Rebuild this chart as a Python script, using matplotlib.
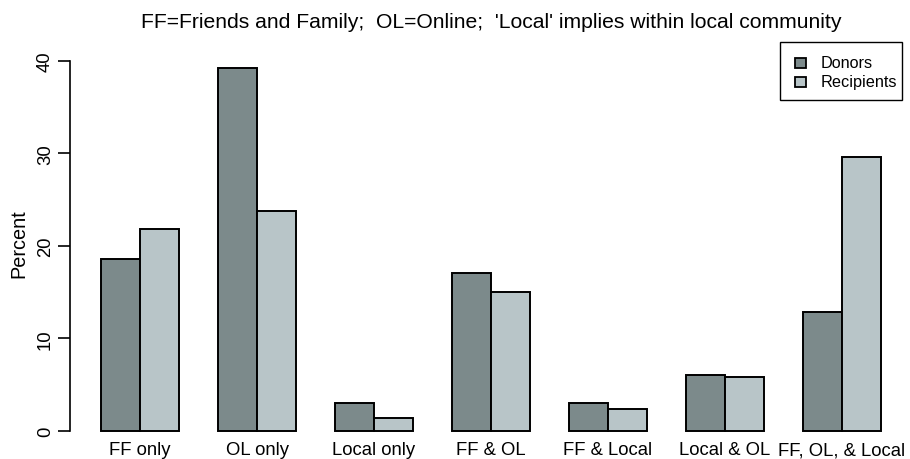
import matplotlib
matplotlib.use("Agg")
import matplotlib.pyplot as plt
from matplotlib.patches import Rectangle
import numpy as np

categories = ["FF only", "OL only", "Local only", "FF & OL", "FF & Local", "Local & OL", "FF, OL, & Local"]
donors = [18.6, 39.2, 3.0, 17.1, 3.0, 6.05, 12.9]
recipients = [21.8, 23.75, 1.4, 15.0, 2.4, 5.8, 29.65]
series_names = ["Donors", "Recipients"]
yticks = [0, 10, 20, 30, 40]
title = "FF=Friends and Family;  OL=Online;  'Local' implies within local community"

c_don = "#7c8a8b"
c_rec = "#b8c5c8"

plt.rcParams['font.family'] = ['Liberation Sans', 'DejaVu Sans']

W, H = 910, 460
fx = lambda px: px / W
fy = lambda py: 1 - py / H

fig = plt.figure(figsize=(W/100, H/100), dpi=100)
left_px, right_px = 70, 912
top_px, bot_px = 54.6, 446.5
ax = fig.add_axes([fx(left_px), fy(bot_px), (right_px-left_px)/W, (bot_px-top_px)/H])

n = len(categories)
# R barplot beside layout: group start at 1 + 3*i
starts = 1 + 3*np.arange(n)
ax.bar(starts, donors, width=1, align='edge', color=c_don, edgecolor='black', linewidth=1.4)
ax.bar(starts+1, recipients, width=1, align='edge', color=c_rec, edgecolor='black', linewidth=1.4)

ax.set_xlim(0.2, 21.8)
ax.set_ylim(-1.57, 40.8)
for s in ['top', 'right', 'bottom']:
    ax.spines[s].set_visible(False)
ax.spines['left'].set_bounds(0, 40)
ax.spines['left'].set_linewidth(1.2)
ax.set_yticks(yticks)
ax.set_yticklabels([str(v) for v in yticks], rotation=90, va='center', fontsize=13.3)
ax.tick_params(axis='y', length=8.5, width=1.2, pad=3)
ax.set_xticks(starts + 1)
ax.set_xticklabels(categories, fontsize=13.3)
ax.tick_params(axis='x', length=0, pad=-3.0)

fig.text(fx(18.5), fy(244), "Percent", rotation=90, ha='center', va='center', fontsize=14.3)

fig.text(fx((left_px+right_px)/2), fy(22), title, ha='center', va='center', fontsize=15.2)

# legend drawn R-style
fig.patches.append(Rectangle((fx(779.5), fy(100.7)), (902-779.5)/W, (100.7-43.3)/H,
                             transform=fig.transFigure, fill=False, edgecolor='black',
                             linewidth=1.0))
for name, col, yc in zip(series_names, [c_don, c_rec], [64.0, 83.0]):
    fig.patches.append(Rectangle((fx(795), fy(yc + 5)), 11/W, 10/H,
                                 transform=fig.transFigure, facecolor=col,
                                 edgecolor='black', linewidth=1.3))
    fig.text(fx(821), fy(yc), name, ha='left', va='center', fontsize=11.7)

fig.savefig("out.png", dpi=100)
